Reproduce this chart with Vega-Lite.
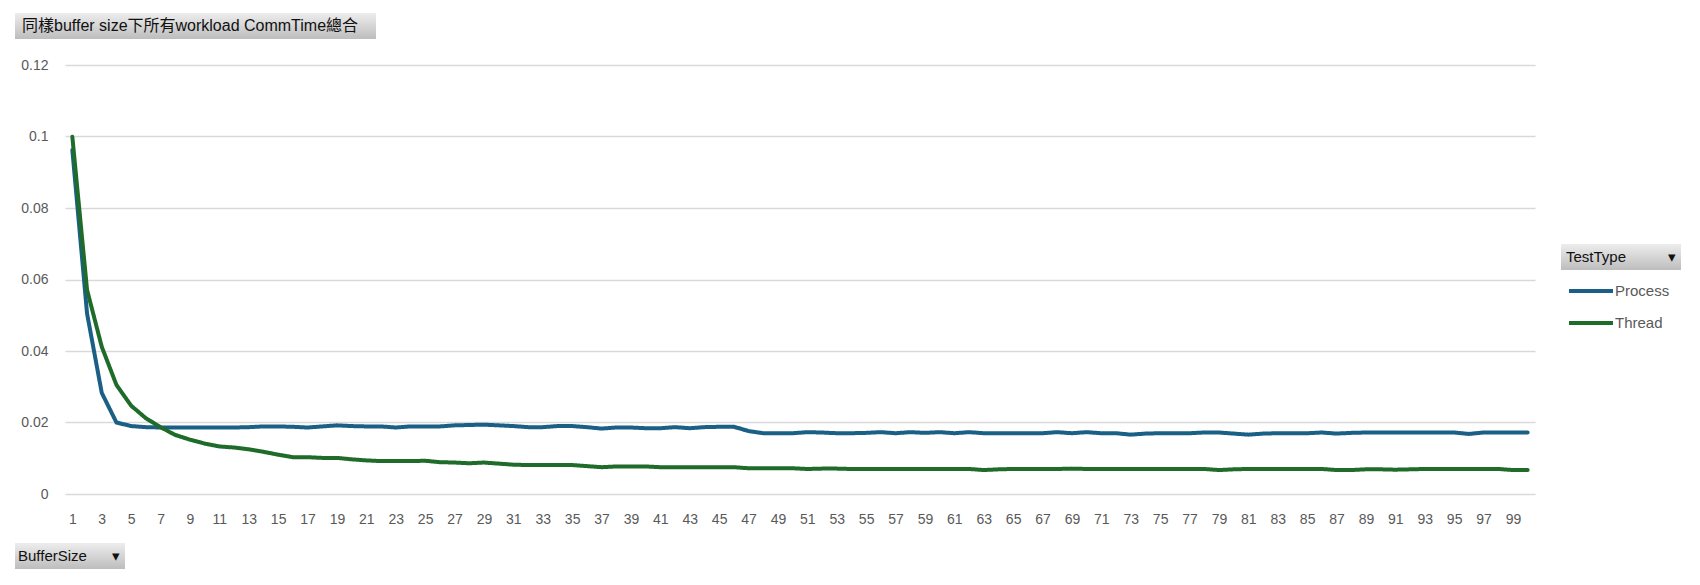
{
  "$schema": "https://vega.github.io/schema/vega-lite/v6.json",
  "width": 1470,
  "height": 429,
  "autosize": {"type": "none"},
  "padding": {"left": 65, "top": 65, "right": 165, "bottom": 91},
  "background": "white",
  "config": {"view": {"stroke": null}, "font": "Liberation Sans, Noto Sans CJK TC"},
  "data": {"values": [
{"BufferSize":1,"TestType":"Process","CommTime":0.0962},{"BufferSize":2,"TestType":"Process","CommTime":0.0505},{"BufferSize":3,"TestType":"Process","CommTime":0.0283},{"BufferSize":4,"TestType":"Process","CommTime":0.0200},{"BufferSize":5,"TestType":"Process","CommTime":0.0190},{"BufferSize":6,"TestType":"Process","CommTime":0.0187},{"BufferSize":7,"TestType":"Process","CommTime":0.0186},{"BufferSize":8,"TestType":"Process","CommTime":0.0186},{"BufferSize":9,"TestType":"Process","CommTime":0.0186},{"BufferSize":10,"TestType":"Process","CommTime":0.0186},
{"BufferSize":11,"TestType":"Process","CommTime":0.0186},{"BufferSize":12,"TestType":"Process","CommTime":0.0186},{"BufferSize":13,"TestType":"Process","CommTime":0.0187},{"BufferSize":14,"TestType":"Process","CommTime":0.0189},{"BufferSize":15,"TestType":"Process","CommTime":0.0189},{"BufferSize":16,"TestType":"Process","CommTime":0.0188},{"BufferSize":17,"TestType":"Process","CommTime":0.0186},{"BufferSize":18,"TestType":"Process","CommTime":0.0189},{"BufferSize":19,"TestType":"Process","CommTime":0.0192},{"BufferSize":20,"TestType":"Process","CommTime":0.0190},
{"BufferSize":21,"TestType":"Process","CommTime":0.0189},{"BufferSize":22,"TestType":"Process","CommTime":0.0189},{"BufferSize":23,"TestType":"Process","CommTime":0.0186},{"BufferSize":24,"TestType":"Process","CommTime":0.0189},{"BufferSize":25,"TestType":"Process","CommTime":0.0189},{"BufferSize":26,"TestType":"Process","CommTime":0.0189},{"BufferSize":27,"TestType":"Process","CommTime":0.0192},{"BufferSize":28,"TestType":"Process","CommTime":0.0193},{"BufferSize":29,"TestType":"Process","CommTime":0.0194},{"BufferSize":30,"TestType":"Process","CommTime":0.0192},
{"BufferSize":31,"TestType":"Process","CommTime":0.0190},{"BufferSize":32,"TestType":"Process","CommTime":0.0187},{"BufferSize":33,"TestType":"Process","CommTime":0.0187},{"BufferSize":34,"TestType":"Process","CommTime":0.0190},{"BufferSize":35,"TestType":"Process","CommTime":0.0190},{"BufferSize":36,"TestType":"Process","CommTime":0.0187},{"BufferSize":37,"TestType":"Process","CommTime":0.0183},{"BufferSize":38,"TestType":"Process","CommTime":0.0186},{"BufferSize":39,"TestType":"Process","CommTime":0.0186},{"BufferSize":40,"TestType":"Process","CommTime":0.0184},
{"BufferSize":41,"TestType":"Process","CommTime":0.0184},{"BufferSize":42,"TestType":"Process","CommTime":0.0187},{"BufferSize":43,"TestType":"Process","CommTime":0.0184},{"BufferSize":44,"TestType":"Process","CommTime":0.0187},{"BufferSize":45,"TestType":"Process","CommTime":0.0188},{"BufferSize":46,"TestType":"Process","CommTime":0.0188},{"BufferSize":47,"TestType":"Process","CommTime":0.0176},{"BufferSize":48,"TestType":"Process","CommTime":0.0170},{"BufferSize":49,"TestType":"Process","CommTime":0.0170},{"BufferSize":50,"TestType":"Process","CommTime":0.0170},
{"BufferSize":51,"TestType":"Process","CommTime":0.0173},{"BufferSize":52,"TestType":"Process","CommTime":0.0172},{"BufferSize":53,"TestType":"Process","CommTime":0.0170},{"BufferSize":54,"TestType":"Process","CommTime":0.0170},{"BufferSize":55,"TestType":"Process","CommTime":0.0171},{"BufferSize":56,"TestType":"Process","CommTime":0.0173},{"BufferSize":57,"TestType":"Process","CommTime":0.0170},{"BufferSize":58,"TestType":"Process","CommTime":0.0173},{"BufferSize":59,"TestType":"Process","CommTime":0.0171},{"BufferSize":60,"TestType":"Process","CommTime":0.0173},
{"BufferSize":61,"TestType":"Process","CommTime":0.0170},{"BufferSize":62,"TestType":"Process","CommTime":0.0173},{"BufferSize":63,"TestType":"Process","CommTime":0.0170},{"BufferSize":64,"TestType":"Process","CommTime":0.0170},{"BufferSize":65,"TestType":"Process","CommTime":0.0170},{"BufferSize":66,"TestType":"Process","CommTime":0.0170},{"BufferSize":67,"TestType":"Process","CommTime":0.0170},{"BufferSize":68,"TestType":"Process","CommTime":0.0173},{"BufferSize":69,"TestType":"Process","CommTime":0.0170},{"BufferSize":70,"TestType":"Process","CommTime":0.0173},
{"BufferSize":71,"TestType":"Process","CommTime":0.0170},{"BufferSize":72,"TestType":"Process","CommTime":0.0170},{"BufferSize":73,"TestType":"Process","CommTime":0.0166},{"BufferSize":74,"TestType":"Process","CommTime":0.0169},{"BufferSize":75,"TestType":"Process","CommTime":0.0170},{"BufferSize":76,"TestType":"Process","CommTime":0.0170},{"BufferSize":77,"TestType":"Process","CommTime":0.0170},{"BufferSize":78,"TestType":"Process","CommTime":0.0172},{"BufferSize":79,"TestType":"Process","CommTime":0.0172},{"BufferSize":80,"TestType":"Process","CommTime":0.0169},
{"BufferSize":81,"TestType":"Process","CommTime":0.0166},{"BufferSize":82,"TestType":"Process","CommTime":0.0169},{"BufferSize":83,"TestType":"Process","CommTime":0.0170},{"BufferSize":84,"TestType":"Process","CommTime":0.0170},{"BufferSize":85,"TestType":"Process","CommTime":0.0170},{"BufferSize":86,"TestType":"Process","CommTime":0.0172},{"BufferSize":87,"TestType":"Process","CommTime":0.0169},{"BufferSize":88,"TestType":"Process","CommTime":0.0171},{"BufferSize":89,"TestType":"Process","CommTime":0.0172},{"BufferSize":90,"TestType":"Process","CommTime":0.0172},
{"BufferSize":91,"TestType":"Process","CommTime":0.0172},{"BufferSize":92,"TestType":"Process","CommTime":0.0172},{"BufferSize":93,"TestType":"Process","CommTime":0.0172},{"BufferSize":94,"TestType":"Process","CommTime":0.0172},{"BufferSize":95,"TestType":"Process","CommTime":0.0172},{"BufferSize":96,"TestType":"Process","CommTime":0.0168},{"BufferSize":97,"TestType":"Process","CommTime":0.0172},{"BufferSize":98,"TestType":"Process","CommTime":0.0172},{"BufferSize":99,"TestType":"Process","CommTime":0.0172},{"BufferSize":100,"TestType":"Process","CommTime":0.0172},
{"BufferSize":1,"TestType":"Thread","CommTime":0.0999},{"BufferSize":2,"TestType":"Thread","CommTime":0.0571},{"BufferSize":3,"TestType":"Thread","CommTime":0.0412},{"BufferSize":4,"TestType":"Thread","CommTime":0.0305},{"BufferSize":5,"TestType":"Thread","CommTime":0.0247},{"BufferSize":6,"TestType":"Thread","CommTime":0.0212},{"BufferSize":7,"TestType":"Thread","CommTime":0.0187},{"BufferSize":8,"TestType":"Thread","CommTime":0.0165},{"BufferSize":9,"TestType":"Thread","CommTime":0.0152},{"BufferSize":10,"TestType":"Thread","CommTime":0.0141},
{"BufferSize":11,"TestType":"Thread","CommTime":0.0133},{"BufferSize":12,"TestType":"Thread","CommTime":0.0130},{"BufferSize":13,"TestType":"Thread","CommTime":0.0125},{"BufferSize":14,"TestType":"Thread","CommTime":0.0118},{"BufferSize":15,"TestType":"Thread","CommTime":0.0110},{"BufferSize":16,"TestType":"Thread","CommTime":0.0103},{"BufferSize":17,"TestType":"Thread","CommTime":0.0103},{"BufferSize":18,"TestType":"Thread","CommTime":0.0101},{"BufferSize":19,"TestType":"Thread","CommTime":0.0101},{"BufferSize":20,"TestType":"Thread","CommTime":0.0097},
{"BufferSize":21,"TestType":"Thread","CommTime":0.0094},{"BufferSize":22,"TestType":"Thread","CommTime":0.0092},{"BufferSize":23,"TestType":"Thread","CommTime":0.0092},{"BufferSize":24,"TestType":"Thread","CommTime":0.0092},{"BufferSize":25,"TestType":"Thread","CommTime":0.0093},{"BufferSize":26,"TestType":"Thread","CommTime":0.0089},{"BufferSize":27,"TestType":"Thread","CommTime":0.0088},{"BufferSize":28,"TestType":"Thread","CommTime":0.0086},{"BufferSize":29,"TestType":"Thread","CommTime":0.0088},{"BufferSize":30,"TestType":"Thread","CommTime":0.0085},
{"BufferSize":31,"TestType":"Thread","CommTime":0.0082},{"BufferSize":32,"TestType":"Thread","CommTime":0.0081},{"BufferSize":33,"TestType":"Thread","CommTime":0.0081},{"BufferSize":34,"TestType":"Thread","CommTime":0.0081},{"BufferSize":35,"TestType":"Thread","CommTime":0.0081},{"BufferSize":36,"TestType":"Thread","CommTime":0.0078},{"BufferSize":37,"TestType":"Thread","CommTime":0.0075},{"BufferSize":38,"TestType":"Thread","CommTime":0.0077},{"BufferSize":39,"TestType":"Thread","CommTime":0.0077},{"BufferSize":40,"TestType":"Thread","CommTime":0.0077},
{"BufferSize":41,"TestType":"Thread","CommTime":0.0075},{"BufferSize":42,"TestType":"Thread","CommTime":0.0075},{"BufferSize":43,"TestType":"Thread","CommTime":0.0075},{"BufferSize":44,"TestType":"Thread","CommTime":0.0075},{"BufferSize":45,"TestType":"Thread","CommTime":0.0075},{"BufferSize":46,"TestType":"Thread","CommTime":0.0075},{"BufferSize":47,"TestType":"Thread","CommTime":0.0072},{"BufferSize":48,"TestType":"Thread","CommTime":0.0072},{"BufferSize":49,"TestType":"Thread","CommTime":0.0072},{"BufferSize":50,"TestType":"Thread","CommTime":0.0072},
{"BufferSize":51,"TestType":"Thread","CommTime":0.0070},{"BufferSize":52,"TestType":"Thread","CommTime":0.0071},{"BufferSize":53,"TestType":"Thread","CommTime":0.0071},{"BufferSize":54,"TestType":"Thread","CommTime":0.0070},{"BufferSize":55,"TestType":"Thread","CommTime":0.0070},{"BufferSize":56,"TestType":"Thread","CommTime":0.0070},{"BufferSize":57,"TestType":"Thread","CommTime":0.0070},{"BufferSize":58,"TestType":"Thread","CommTime":0.0070},{"BufferSize":59,"TestType":"Thread","CommTime":0.0070},{"BufferSize":60,"TestType":"Thread","CommTime":0.0070},
{"BufferSize":61,"TestType":"Thread","CommTime":0.0070},{"BufferSize":62,"TestType":"Thread","CommTime":0.0070},{"BufferSize":63,"TestType":"Thread","CommTime":0.0067},{"BufferSize":64,"TestType":"Thread","CommTime":0.0069},{"BufferSize":65,"TestType":"Thread","CommTime":0.0070},{"BufferSize":66,"TestType":"Thread","CommTime":0.0070},{"BufferSize":67,"TestType":"Thread","CommTime":0.0070},{"BufferSize":68,"TestType":"Thread","CommTime":0.0070},{"BufferSize":69,"TestType":"Thread","CommTime":0.0071},{"BufferSize":70,"TestType":"Thread","CommTime":0.0070},
{"BufferSize":71,"TestType":"Thread","CommTime":0.0070},{"BufferSize":72,"TestType":"Thread","CommTime":0.0070},{"BufferSize":73,"TestType":"Thread","CommTime":0.0070},{"BufferSize":74,"TestType":"Thread","CommTime":0.0070},{"BufferSize":75,"TestType":"Thread","CommTime":0.0070},{"BufferSize":76,"TestType":"Thread","CommTime":0.0070},{"BufferSize":77,"TestType":"Thread","CommTime":0.0070},{"BufferSize":78,"TestType":"Thread","CommTime":0.0070},{"BufferSize":79,"TestType":"Thread","CommTime":0.0067},{"BufferSize":80,"TestType":"Thread","CommTime":0.0069},
{"BufferSize":81,"TestType":"Thread","CommTime":0.0070},{"BufferSize":82,"TestType":"Thread","CommTime":0.0070},{"BufferSize":83,"TestType":"Thread","CommTime":0.0070},{"BufferSize":84,"TestType":"Thread","CommTime":0.0070},{"BufferSize":85,"TestType":"Thread","CommTime":0.0070},{"BufferSize":86,"TestType":"Thread","CommTime":0.0070},{"BufferSize":87,"TestType":"Thread","CommTime":0.0067},{"BufferSize":88,"TestType":"Thread","CommTime":0.0067},{"BufferSize":89,"TestType":"Thread","CommTime":0.0069},{"BufferSize":90,"TestType":"Thread","CommTime":0.0069},
{"BufferSize":91,"TestType":"Thread","CommTime":0.0068},{"BufferSize":92,"TestType":"Thread","CommTime":0.0069},{"BufferSize":93,"TestType":"Thread","CommTime":0.0070},{"BufferSize":94,"TestType":"Thread","CommTime":0.0070},{"BufferSize":95,"TestType":"Thread","CommTime":0.0070},{"BufferSize":96,"TestType":"Thread","CommTime":0.0070},{"BufferSize":97,"TestType":"Thread","CommTime":0.0070},{"BufferSize":98,"TestType":"Thread","CommTime":0.0070},{"BufferSize":99,"TestType":"Thread","CommTime":0.0067},{"BufferSize":100,"TestType":"Thread","CommTime":0.0067}
  ]},
  "mark": {"type": "line", "strokeCap": "round", "strokeJoin": "round"},
  "encoding": {
    "x": {
      "field": "BufferSize", "type": "ordinal",
      "axis": {"title": null, "labelAngle": 0, "ticks": false, "domain": false, "grid": false, "labelOverlap": false, "labelPadding": 18, "labelFontSize": 14, "labelColor": "#595959", "labelExpr": "datum.value % 2 == 1 ? datum.label : ''"}
    },
    "y": {
      "field": "CommTime", "type": "quantitative",
      "scale": {"domain": [0, 0.12], "nice": false, "zero": true},
      "axis": {"title": null, "values": [0, 0.02, 0.04, 0.06, 0.08, 0.1, 0.12], "labelExpr": "datum.value == 0 ? '0' : format(datum.value, '.2~f')", "ticks": false, "domain": false, "grid": true, "gridColor": "#d9d9d9", "gridWidth": 1.5, "labelPadding": 17, "labelFontSize": 14, "labelColor": "#595959"}
    },
    "color": {
      "field": "TestType", "type": "nominal",
      "scale": {"domain": ["Process", "Thread"], "range": ["#1a5f85", "#1e6b2a"]},
      "legend": {"title": null, "orient": "none", "legendX": 1502, "legendY": 202, "symbolType": "stroke", "symbolSize": 1936, "symbolStrokeWidth": 4, "rowPadding": -9, "labelFontSize": 15, "labelColor": "#595959", "labelOffset": 0, "padding": 0}
    },
    "strokeDash": {
      "datum": "同樣buffer size下所有workload CommTime總合\u2800", "type": "nominal",
      "scale": {"range": [[1, 0]]},
      "legend": {"title": null, "orient": "none", "legendX": -50, "legendY": -52, "padding": 5, "fillColor": "#d6d6d6", "symbolOpacity": 0, "symbolSize": 0, "labelOffset": -14, "labelFontSize": 16, "labelColor": "#111111", "labelLimit": 600,
        "encode": {"legend": {"update": {"fill": {"value": {"gradient": "linear", "x1": 0, "y1": 0, "x2": 0, "y2": 1, "stops": [{"offset": 0, "color": "#ededed"}, {"offset": 1, "color": "#bdbdbd"}]}}}}}}
    },
    "opacity": {
      "datum": "BufferSize\u00a0\u00a0\u00a0\u00a0\u00a0\u00a0▾", "type": "ordinal",
      "scale": {"type": "point", "range": [1, 1]},
      "legend": {"title": null, "orient": "none", "legendX": -50, "legendY": 478, "padding": 5, "fillColor": "#d6d6d6", "symbolOpacity": 0, "symbolSize": 0, "labelOffset": -17, "labelFontSize": 15, "labelColor": "#111111", "labelLimit": 600,
        "encode": {"legend": {"update": {"fill": {"value": {"gradient": "linear", "x1": 0, "y1": 0, "x2": 0, "y2": 1, "stops": [{"offset": 0, "color": "#ededed"}, {"offset": 1, "color": "#bdbdbd"}]}}}}}}
    },
    "strokeWidth": {
      "datum": "TestType\u00a0\u00a0\u00a0\u00a0\u00a0\u00a0\u00a0\u00a0\u00a0\u00a0▾", "type": "ordinal",
      "scale": {"type": "point", "range": [4, 4]},
      "legend": {"title": null, "orient": "none", "legendX": 1496, "legendY": 179, "padding": 5, "fillColor": "#d6d6d6", "symbolOpacity": 0, "symbolStrokeWidth": 0, "symbolSize": 0, "labelOffset": -15, "labelFontSize": 15, "labelColor": "#111111", "labelLimit": 600,
        "encode": {"legend": {"update": {"fill": {"value": {"gradient": "linear", "x1": 0, "y1": 0, "x2": 0, "y2": 1, "stops": [{"offset": 0, "color": "#ededed"}, {"offset": 1, "color": "#bdbdbd"}]}}}}}}
    }
  }
}
